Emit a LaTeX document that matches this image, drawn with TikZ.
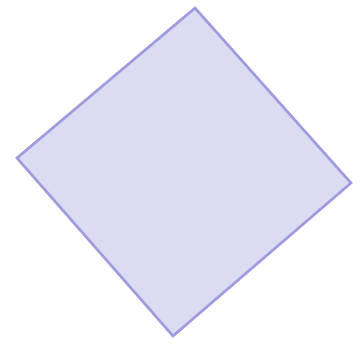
\documentclass[tikz,border=0pt]{standalone}
\definecolor{sqfill}{RGB}{219,219,242}
\definecolor{sqline}{RGB}{160,154,222}
\tikzset{tiltsq/.style={draw=sqline, fill=sqfill, line width=2.6pt, line join=miter}}
\begin{document}
\begin{tikzpicture}[x=1pt,y=-1pt]
\useasboundingbox (0,0) rectangle (363,343);
\coordinate (t) at (195,8);
\coordinate (r) at (351,183);
\coordinate (b) at (173,336);
\coordinate (l) at (17,158);
\draw[tiltsq] (t) -- (r) -- (b) -- (l) -- cycle;
\end{tikzpicture}
\end{document}
